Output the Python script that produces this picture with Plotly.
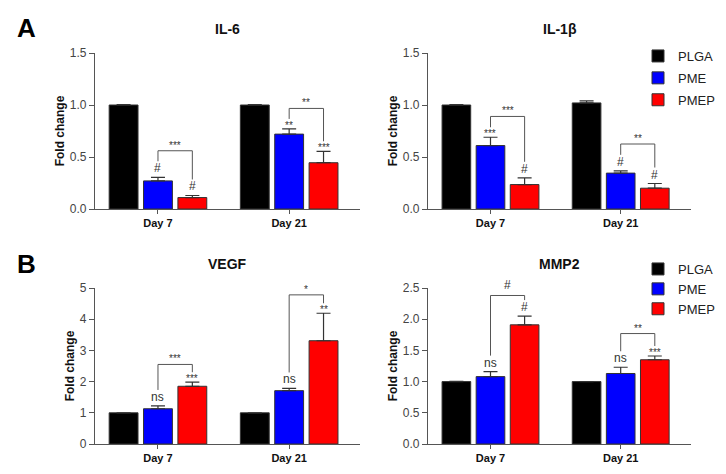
import plotly.graph_objects as go

days = ["Day 7", "Day 21"]
groups = ["PLGA", "PME", "PMEP"]
bar_colors = ["#000000", "#0000FF", "#FF0000"]
panels = ["IL-6", "IL-1β", "VEGF", "MMP2"]

# mean fold change per group, [Day 7, Day 21]
il6_mean = [[1.0, 1.0], [0.27, 0.72], [0.11, 0.445]]
il6_err = [[0.005, 0.004], [0.035, 0.05], [0.02, 0.11]]
il6_marks = [["#", "**"], ["#", "***"]]          # PME, PMEP vs PLGA
il6_bracket = [0.56, 0.967]
il6_bracket_marks = ["***", "**"]

il1b_mean = [[1.0, 1.02], [0.61, 0.345], [0.235, 0.20]]
il1b_err = [[0.005, 0.02], [0.08, 0.022], [0.065, 0.045]]
il1b_marks = [["***", "#"], ["#", "#"]]
il1b_bracket = [0.89, 0.625]
il1b_bracket_marks = ["***", "**"]

vegf_mean = [[1.0, 1.0], [1.13, 1.71], [1.85, 3.31]]
vegf_err = [[0.0, 0.0], [0.09, 0.07], [0.13, 0.88]]
vegf_marks = [["ns", "ns"], ["***", "**"]]
vegf_bracket = [2.55, 4.78]
vegf_bracket_marks = ["***", "*"]

mmp2_mean = [[1.0, 1.0], [1.08, 1.13], [1.91, 1.35]]
mmp2_err = [[0.003, 0.0], [0.08, 0.1], [0.14, 0.06]]
mmp2_marks = [["ns", "ns"], ["#", "***"]]
mmp2_bracket = [2.38, 1.77]
mmp2_bracket_marks = ["#", "**"]

means = [il6_mean, il1b_mean, vegf_mean, mmp2_mean]
errs = [il6_err, il1b_err, vegf_err, mmp2_err]
marks = [il6_marks, il1b_marks, vegf_marks, mmp2_marks]
brackets = [il6_bracket, il1b_bracket, vegf_bracket, mmp2_bracket]
bracket_marks = [il6_bracket_marks, il1b_bracket_marks, vegf_bracket_marks, mmp2_bracket_marks]

y_max = [1.5, 1.5, 5, 2.5]
y_dtick = [0.5, 0.5, 1, 0.5]
y_fmt = [".1f", ".1f", "d", ".1f"]

W, H = 726, 474
OFF = 8  # page body margin


def px_x(p):
    return (p - OFF) / W


def px_y(p):
    return 1 - (p - OFF) / H


x_dom = [[px_x(95), px_x(360)], [px_x(428), px_x(691)]] * 2
top_dom = [px_y(209), px_y(53)]
bot_dom = [px_y(444), px_y(288)]
y_dom = [top_dom, top_dom, bot_dom, bot_dom]
plot_h = 156

BARGAP = 0.214
slot = (1 - BARGAP) / 3

FONT = "Arial, Liberation Sans, sans-serif"
GRAY = "#555555"

fig = go.Figure()
shapes = []
annotations = []

for i, p in enumerate(panels):
    sfx = "" if i == 0 else str(i + 1)
    xa, ya = "x" + sfx, "y" + sfx
    for j, g in enumerate(groups):
        fig.add_trace(go.Bar(
            x=[0, 1], y=means[i][j], name=g,
            xaxis=xa, yaxis=ya,
            marker=dict(color=bar_colors[j], line=dict(color="#333333", width=1)),
            error_y=dict(type="data", array=errs[i][j], arrayminus=[0, 0], symmetric=False,
                         color="#333333", thickness=1.2, width=7),
            showlegend=i in (1, 3),
            legend="legend" if i == 1 else "legend2",
            legendgroup=g + sfx,
            hoverinfo="skip",
        ))

    px = y_max[i] / plot_h
    for k in range(2):
        # labels over PME and PMEP bars
        for j in (1, 2):
            lab = marks[i][j - 1][k]
            top = means[i][j][k] + errs[i][j][k]
            star = "*" in lab
            annotations.append(dict(
                x=k + (j - 1) * slot, y=top, xref=xa, yref=ya, text=lab, showarrow=False,
                yanchor="bottom", yshift=-4 if star else 0,
                font=dict(size=10 if star else 12, color="#333333", family=FONT)))
        # bracket PME -> PMEP
        x0, x1 = k, k + slot
        yb = brackets[i][k]
        legs = []
        for j in (1, 2):
            lab = marks[i][j - 1][k]
            gap = 10 if "*" in lab else 16
            legs.append(means[i][j][k] + errs[i][j][k] + gap * px)
        shapes.append(dict(type="path", xref=xa, yref=ya,
                           path=f"M {x0} {legs[0]} L {x0} {yb} L {x1} {yb} L {x1} {legs[1]}",
                           line=dict(color=GRAY, width=1)))
        lab = bracket_marks[i][k]
        star = "*" in lab
        annotations.append(dict(
            x=(x0 + x1) / 2, y=yb, xref=xa, yref=ya, text=lab, showarrow=False,
            yanchor="bottom", yshift=-2 if star else 1,
            font=dict(size=10 if star else 12, color="#333333", family=FONT)))

    # subplot title
    annotations.append(dict(
        x=0.5, y=y_dom[i][1] + 24 / H, xref=xa + " domain", yref="paper", text="<b>%s</b>" % p,
        showarrow=False, xanchor="center", yanchor="middle",
        font=dict(size=14, color="#111111", family=FONT)))

    axis_common = dict(showgrid=False, zeroline=False, showline=True, linecolor=GRAY,
                       linewidth=1.2, ticks="outside", tickcolor=GRAY, automargin=False)
    fig.layout["xaxis" + sfx] = dict(
        axis_common, domain=x_dom[i], anchor=ya, range=[-0.48, 1.54],
        tickvals=[0, 1], ticktext=["<b>%s</b>" % d for d in days], ticklen=4,
        tickfont=dict(size=11, color="#111111", family=FONT))
    fig.layout["yaxis" + sfx] = dict(
        axis_common, domain=y_dom[i], anchor=xa, range=[0, y_max[i]],
        dtick=y_dtick[i], tickformat=y_fmt[i], ticklen=5,
        tickfont=dict(size=12, color="#444444", family=FONT),
        title=dict(text="<b>Fold change</b>", standoff=2,
                   font=dict(size=12, color="#111111", family=FONT)))

# panel letters
for letter, cy in (("A", 28), ("B", 264)):
    annotations.append(dict(x=px_x(26), y=px_y(cy), xref="paper", yref="paper",
                            text="<b>%s</b>" % letter, showarrow=False,
                            xanchor="center", yanchor="middle",
                            font=dict(size=26, color="#000000", family=FONT)))

legend_style = dict(xanchor="left", yanchor="top", bgcolor="rgba(0,0,0,0)",
                    font=dict(size=13, color="#222222", family=FONT), itemclick=False)

fig.update_layout(
    width=W, height=H,
    margin=dict(l=0, r=0, t=0, b=0),
    paper_bgcolor="white", plot_bgcolor="white",
    barmode="group", bargap=BARGAP, bargroupgap=0.16,
    font=dict(family=FONT),
    shapes=shapes, annotations=annotations,
    legend=dict(legend_style, x=px_x(638), y=px_y(41), tracegroupgap=2),
    legend2=dict(legend_style, x=px_x(638), y=px_y(254), tracegroupgap=0),
)

fig.write_html("out.html")
